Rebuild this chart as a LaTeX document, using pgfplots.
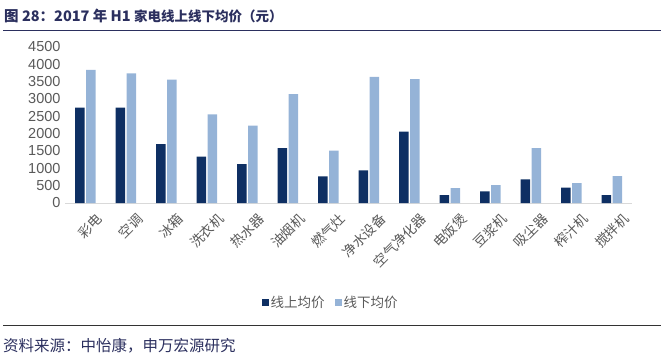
\documentclass[border=0pt]{standalone}
\usepackage{fontspec}
\usepackage{pgfplots}
\pgfplotsset{compat=1.18}
\setmainfont{Liberation Sans}
\newfontfamily\cjk{Noto Sans CJK SC}
\definecolor{navy}{HTML}{0E2F63}
\definecolor{lblue}{HTML}{95B3D7}
\definecolor{titlec}{HTML}{2B2F5E}
\definecolor{tickc}{HTML}{595959}
\definecolor{axc}{HTML}{D9D9D9}
\begin{document}
\begin{tikzpicture}[x=1bp,y=1bp]
\useasboundingbox (0,0) rectangle (664,357);
% title
\node[anchor=west,inner sep=0pt,text=titlec,font=\cjk\bfseries\fontsize{14.5bp}{17bp}\selectfont] at (4,341) {图 28：2017 年 H1 {\fontsize{13.5bp}{17bp}\selectfont 家电线上线下均价（元）}};
\draw[titlec,line width=1bp] (3,327) -- (661,327);
% footer
\draw[black!80,line width=0.8bp] (3,32) -- (661,32);
\node[anchor=west,inner sep=0pt,text=titlec,font=\cjk\fontsize{15.5bp}{17bp}\selectfont] at (3,11) {资料来源：中怡康，申万宏源研究};
\begin{axis}[
  at={(65bp,154bp)}, anchor=south west,
  scale only axis, width=567bp, height=156bp,
  ybar=1.5bp, bar width=9.5bp,
  ymin=0, ymax=4500, ytick={0,500,...,4500},
  xmin=0, xmax=13, enlarge x limits={abs=0.5},
  xtick=data,
  xticklabels={彩电,空调,冰箱,洗衣机,热水器,油烟机,燃气灶,净水设备,空气净化器,电饭煲,豆浆机,吸尘器,榨汁机,搅拌机},
  axis x line*=bottom, axis y line*=left,
  x axis line style={axc, line width=1bp, -},
  y axis line style={draw=none},
  major tick length=0pt,
  /pgf/number format/assume math mode=true,
  /pgf/number format/1000 sep={},
  yticklabel style={font=\fontsize{14.5bp}{16bp}\selectfont, text=tickc, xshift=-1bp},
  xticklabel style={font=\cjk\fontsize{13.5bp}{15bp}\selectfont, text=tickc, rotate=45, anchor=north east, xshift=4bp, yshift=-10bp},
  legend style={at={(0.5,-0.0)}, anchor=north, xshift=-18bp, yshift=-89bp, draw=none, fill=none,
     legend columns=2, font=\cjk\fontsize{13.5bp}{15bp}\selectfont, text=tickc,
     /tikz/every even column/.append style={column sep=8bp}},
  legend image code/.code={\fill[#1] (0bp,-3.5bp) rectangle (7bp,3.5bp);},
]
\addplot[fill=navy, draw=none] coordinates {(0,2750) (1,2750) (2,1700) (3,1340) (4,1120) (5,1580) (6,770) (7,940) (8,2060) (9,230) (10,335) (11,680) (12,440) (13,230)};
\addplot[fill=lblue, draw=none] coordinates {(0,3840) (1,3740) (2,3560) (3,2560) (4,2230) (5,3140) (6,1510) (7,3640) (8,3570) (9,430) (10,515) (11,1580) (12,575) (13,775)};
\legend{线上均价,线下均价}
\end{axis}
\end{tikzpicture}
\end{document}
